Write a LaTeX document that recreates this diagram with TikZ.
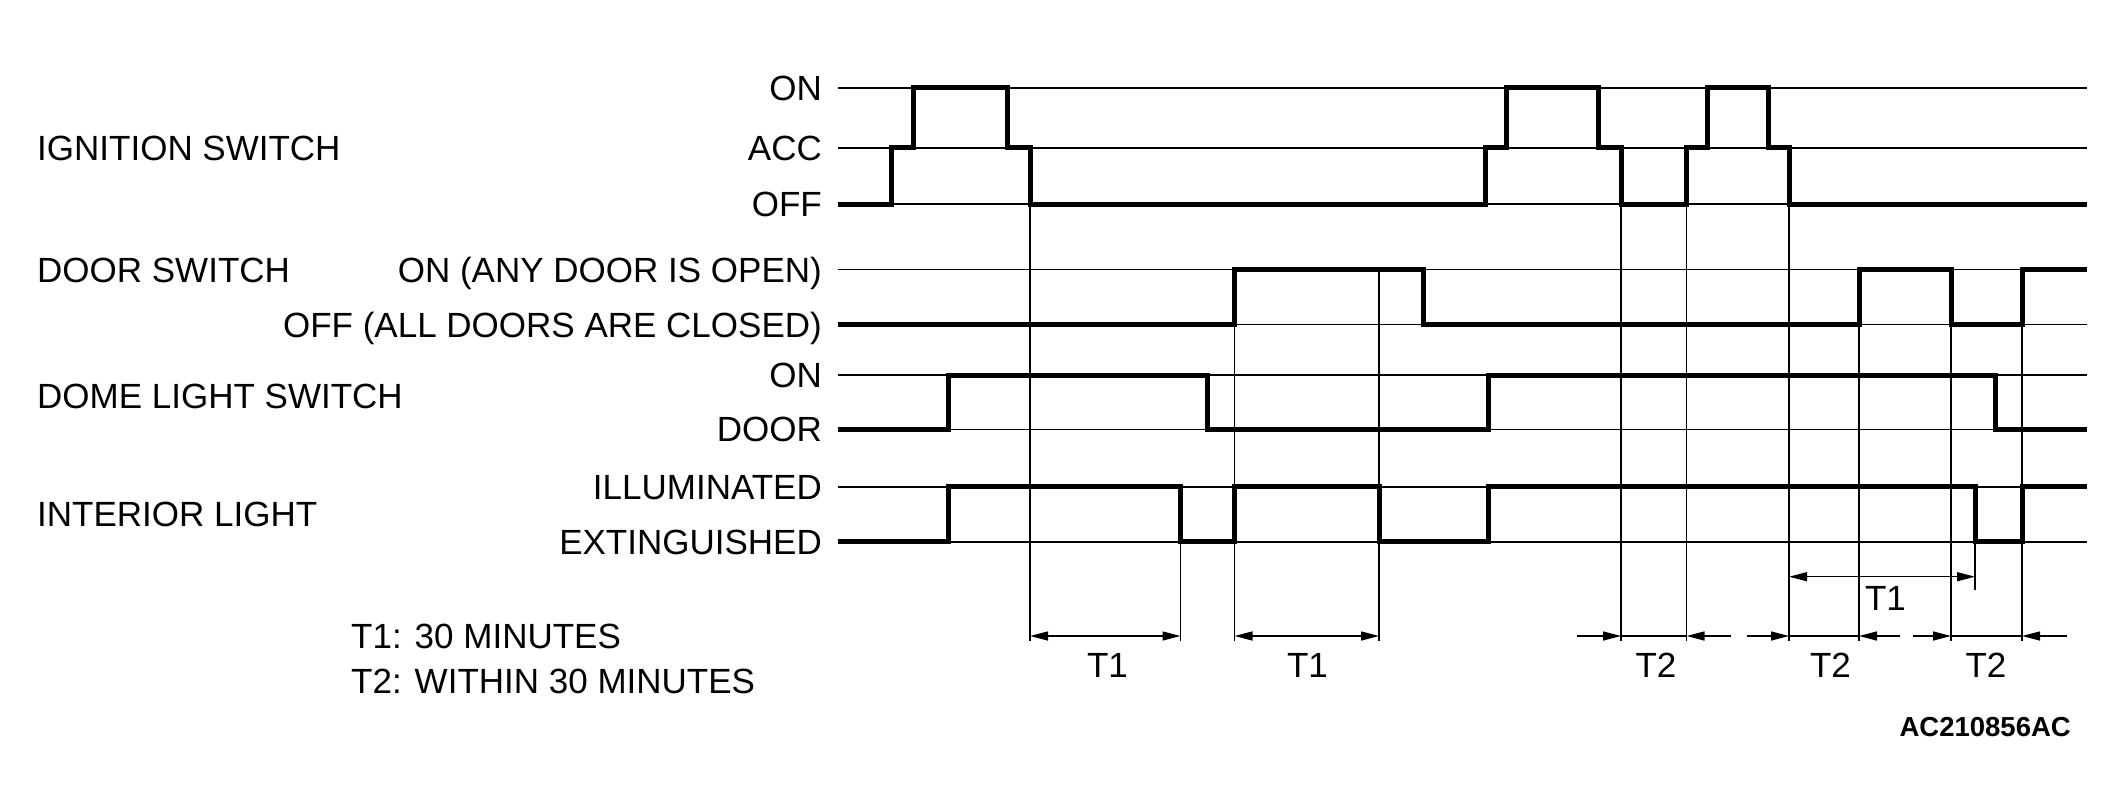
\documentclass[tikz,border=0pt]{standalone}
\usepackage{fontspec}
\setmainfont{Liberation Sans}
\usetikzlibrary{arrows.meta}
\tikzset{
  lbl/.style={anchor=base east, inner sep=0pt, font=\fontsize{35}{42}\selectfont},
  ttl/.style={anchor=base west, inner sep=0pt, font=\fontsize{35}{42}\selectfont},
  tlab/.style={anchor=base, inner sep=0pt, font=\fontsize{35}{42}\selectfont},
  ref/.style={line width=1.6pt},
  drop/.style={line width=1.4pt},
  sig/.style={line width=5pt, line join=miter},
  dim/.style={line width=1.4pt},
  tip/.style={-{Triangle[length=18pt,width=9pt]}},
  tips/.style={{Triangle[length=18pt,width=9pt]}-{Triangle[length=18pt,width=9pt]}}
}
\begin{document}
\begin{tikzpicture}[x=1pt,y=-1pt]
\fill[white] (0,0) rectangle (2124,811);
\useasboundingbox (0,0) rectangle (2124,811);
% level values
\def\yON{87.7}\def\yACC{147.7}\def\yOFF{204}
\def\dON{269.5}\def\dOFF{324.5}
\def\mON{375}\def\mDR{429.3}
\def\iIL{486.7}\def\iEX{541.7}
\def\xs{838}\def\xe{2087}
% reference lines
\foreach \yy in {\yON,\yACC,\yOFF,\dON,\dOFF,\mON,\mDR,\iIL,\iEX}
  \draw[ref] (\xs,\yy) -- (\xe,\yy);
% drop lines
\draw[drop] (1030,\yOFF) -- (1030,641);
\draw[drop] (1180.5,\iEX) -- (1180.5,641);
\draw[drop] (1234.5,\dOFF) -- (1234.5,641);
\draw[drop] (1379,\dON) -- (1379,641);
\draw[drop] (1621,\yOFF) -- (1621,641);
\draw[drop] (1686.5,\yOFF) -- (1686.5,641);
\draw[drop] (1789,\yOFF) -- (1789,641);
\draw[drop] (1859,\dOFF) -- (1859,641);
\draw[drop] (1951,\dOFF) -- (1951,641);
\draw[drop] (2022,\dOFF) -- (2022,641);
\draw[drop] (1975,\iEX) -- (1975,590);
% ignition switch signal
\draw[sig] (\xs,\yOFF) -- (891.5,\yOFF) -- (891.5,\yACC) -- (913,\yACC) -- (913,\yON)
  -- (1007,\yON) -- (1007,\yACC) -- (1030,\yACC) -- (1030,\yOFF)
  -- (1485,\yOFF) -- (1485,\yACC) -- (1506,\yACC) -- (1506,\yON)
  -- (1598,\yON) -- (1598,\yACC) -- (1621,\yACC) -- (1621,\yOFF)
  -- (1686.5,\yOFF) -- (1686.5,\yACC) -- (1707,\yACC) -- (1707,\yON)
  -- (1768.5,\yON) -- (1768.5,\yACC) -- (1789,\yACC) -- (1789,\yOFF) -- (\xe,\yOFF);
% door switch signal
\draw[sig] (\xs,\dOFF) -- (1234.5,\dOFF) -- (1234.5,\dON) -- (1423,\dON) -- (1423,\dOFF)
  -- (1859,\dOFF) -- (1859,\dON) -- (1951,\dON) -- (1951,\dOFF)
  -- (2022,\dOFF) -- (2022,\dON) -- (\xe,\dON);
% dome light switch signal
\draw[sig] (\xs,\mDR) -- (948,\mDR) -- (948,\mON) -- (1207.5,\mON) -- (1207.5,\mDR)
  -- (1488.7,\mDR) -- (1488.7,\mON) -- (1995.3,\mON) -- (1995.3,\mDR) -- (\xe,\mDR);
% interior light signal
\draw[sig] (\xs,\iEX) -- (948,\iEX) -- (948,\iIL) -- (1180.5,\iIL) -- (1180.5,\iEX)
  -- (1234.5,\iEX) -- (1234.5,\iIL) -- (1379,\iIL) -- (1379,\iEX)
  -- (1488.7,\iEX) -- (1488.7,\iIL) -- (1975,\iIL) -- (1975,\iEX)
  -- (2022,\iEX) -- (2022,\iIL) -- (\xe,\iIL);
% level labels
\node[lbl] (ig-on) at (822,100.2) {ON};
\node[lbl] (ig-acc) at (822,160.2) {ACC};
\node[lbl] (ig-off) at (822,216.5) {OFF};
\node[lbl] (ds-on) at (822,282) {ON (ANY DOOR IS OPEN)};
\node[lbl] (ds-off) at (822,337) {OFF (ALL DOORS ARE CLOSED)};
\node[lbl] (dl-on) at (822,387.5) {ON};
\node[lbl] (dl-door) at (822,441.8) {DOOR};
\node[lbl] (il-ill) at (822,499.2) {ILLUMINATED};
\node[lbl] (il-ext) at (822,554.2) {EXTINGUISHED};
% signal titles
\node[ttl] (t-ign) at (37,160) {IGNITION SWITCH};
\node[ttl] (t-door) at (37,282) {DOOR SWITCH};
\node[ttl] (t-dome) at (37,408.5) {DOME LIGHT SWITCH};
\node[ttl] (t-int) at (37,526.7) {INTERIOR LIGHT};
% legend
\node[ttl] (leg1) at (351,648) {T1: 30 MINUTES};
\node[ttl] (leg2) at (351,693) {T2: WITHIN 30 MINUTES};
% dimension arrows T1
\draw[dim,tips] (1030,636) -- (1180.5,636);
\draw[dim,tips] (1234.5,636) -- (1379,636);
\draw[dim,tips] (1789,576.7) -- (1975,576.7);
% dimension arrows T2
\draw[dim,tip] (1576.7,636) -- (1621,636);
\draw[dim] (1621,636) -- (1686.5,636);
\draw[dim,tip] (1730.7,636) -- (1686.5,636);
\draw[dim,tip] (1746.7,636) -- (1789,636);
\draw[dim] (1789,636) -- (1859,636);
\draw[dim,tip] (1900,636) -- (1859,636);
\draw[dim,tip] (1912.7,636) -- (1951,636);
\draw[dim] (1951,636) -- (2022,636);
\draw[dim,tip] (2066.7,636) -- (2022,636);
% time labels
\node[tlab] (lt1a) at (1107.5,677.3) {T1};
\node[tlab] (lt1b) at (1307.5,677.3) {T1};
\node[tlab] (lt1c) at (1885.5,610.7) {T1};
\node[tlab] (lt2a) at (1656,677.3) {T2};
\node[tlab] (lt2b) at (1830.5,677.3) {T2};
\node[tlab] (lt2c) at (1986,677.3) {T2};
% figure code
\node[anchor=base east, inner sep=0pt, font=\fontsize{27.5}{33}\selectfont\bfseries] (code) at (2071,736) {AC210856AC};
\end{tikzpicture}
\end{document}
